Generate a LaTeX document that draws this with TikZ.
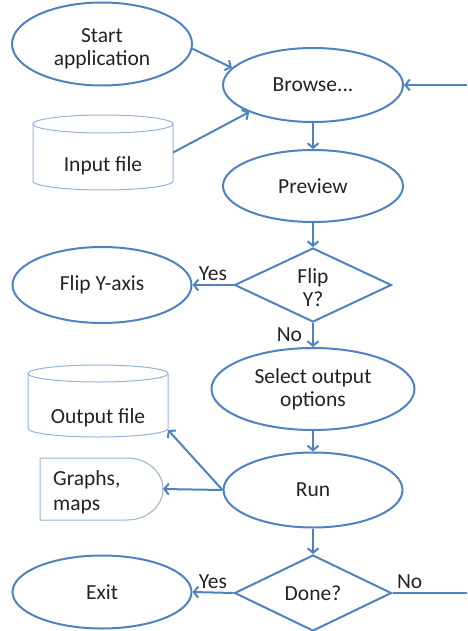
\documentclass[tikz,border=0pt]{standalone}
\usepackage{fontspec}
\setmainfont{Carlito}
\usetikzlibrary{shapes.geometric,arrows.meta}
\definecolor{fblue}{HTML}{4F82C0}
\definecolor{lblue}{HTML}{95B3D7}
\definecolor{txtc}{HTML}{222222}
\tikzset{
  base/.style={text=txtc, font=\fontsize{21.5}{23}\selectfont, align=center, inner sep=0pt},
  oval/.style={base, ellipse, draw=fblue, line width=2pt},
  decision/.style={base, diamond, draw=fblue, line width=2pt, aspect=2},
  holder/.style={inner sep=0pt, outer sep=0pt},
  store/.style={draw=lblue, line width=1pt},
  conn/.style={draw=fblue, line width=2pt, -{Straight Barb[length=4.5pt,width=11pt]}},
  plain/.style={draw=fblue, line width=2pt},
}
\begin{document}
\begin{tikzpicture}[x=1pt,y=-1pt]
\useasboundingbox (0,0) rectangle (467,631);
% main nodes
\node[oval, minimum width=180pt, minimum height=83pt] (start) at (102,44) {};
\node[base] (starttext) at ([yshift=-5pt]start.center) {Start\\application};
\node[oval, minimum width=180pt, minimum height=74pt] (browse) at (313,85) {Browse...};
\node[oval, minimum width=180pt, minimum height=72pt] (preview) at (313,186) {Preview};
\node[decision, minimum width=157pt, minimum height=74pt] (flip) at (313,285) {};
\node[base] (fliptext) at ([yshift=-3pt]flip.center) {Flip\\Y?};
\node[oval, minimum width=179pt, minimum height=76pt] (flipax) at (102,285) {Flip Y-axis};
\node[oval, minimum width=203pt, minimum height=82pt] (select) at (313,389) {Select output\\options};
\node[oval, minimum width=179pt, minimum height=75pt] (run) at (313,490) {Run};
\node[decision, minimum width=157pt, minimum height=76pt] (done) at (313,593) {Done?};
\node[oval, minimum width=179pt, minimum height=73pt] (exit) at (102,592) {Exit};

% input file cylinder
\node[holder, minimum width=140pt, minimum height=75pt] (inp) at (103,152.5) {};
\draw[store] ([yshift=-9pt]inp.north) ellipse [x radius=70pt, y radius=9pt];
\draw[store] ([yshift=-9pt]inp.north west) -- ([yshift=9pt]inp.south west)
  arc[start angle=180, end angle=360, x radius=70pt, y radius=9pt] -- ([yshift=-9pt]inp.north east);
\node[base] (inptext) at ([yshift=-13pt]inp.center) {Input file};

% output file cylinder
\node[holder, minimum width=140pt, minimum height=72pt] (out) at (98,401) {};
\draw[store] ([yshift=-8.5pt]out.north) ellipse [x radius=70pt, y radius=8.5pt];
\draw[store] ([yshift=-8.5pt]out.north west) -- ([yshift=8.5pt]out.south west)
  arc[start angle=180, end angle=360, x radius=70pt, y radius=8.5pt] -- ([yshift=-8.5pt]out.north east);
\node[base] (outtext) at ([yshift=-17pt]out.center) {Output file};

% graphs, maps (delay shape)
\node[holder, minimum width=123pt, minimum height=62pt] (gr) at (101.5,489) {};
\draw[store] (gr.north west) -- ([xshift=-36pt]gr.north east)
  arc[start angle=90, end angle=-90, x radius=36pt, y radius=31pt] -- (gr.south west) -- cycle;
\node[base, align=left, anchor=west, font=\fontsize{21.5}{25}\selectfont] (grtext) at ([xshift=13pt,yshift=-3pt]gr.west) {Graphs,\\maps};

% loop-back ends at the right edge
\coordinate (rtop) at (467,85);
\coordinate (rbot) at (467,593);

% connectors
\draw[conn] (start.-3) -- (browse.168);
\draw[conn] (inp.east) -- (browse.203);
\draw[conn] (rtop) -- (browse.east);
\draw[conn] (browse.south) -- (preview.north);
\draw[conn] (preview.south) -- (flip.north);
\draw[conn] (flip.west) -- node[base, above=3pt] {Yes} (flipax.east);
\draw[conn] (flip.south) -- node[base, left=10pt] {No} (select.north);
\draw[conn] (select.south) -- (run.north);
\draw[conn] (run.west) -- ([yshift=7pt]out.south east);
\draw[conn] (run.west) -- (gr.east);
\draw[conn] (run.south) -- (done.north);
\draw[conn] (done.west) -- node[base, above=3pt] {Yes} (exit.east);
\draw[plain] (done.east) -- node[base, pos=0.23, above=3pt] {No} (rbot);
\end{tikzpicture}
\end{document}
